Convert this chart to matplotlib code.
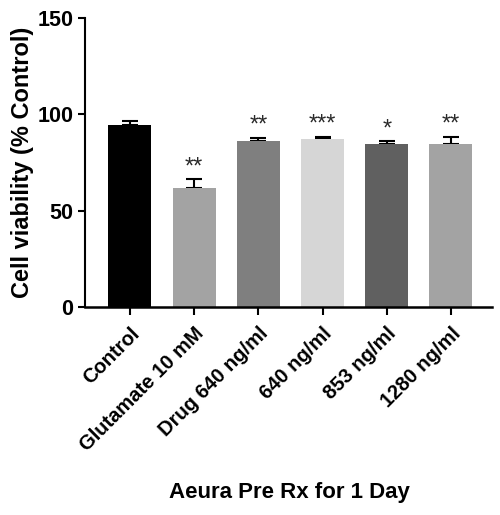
import matplotlib.pyplot as plt
import numpy as np

plt.rcParams['font.family'] = ['Liberation Sans', 'DejaVu Sans']
plt.rcParams['font.weight'] = 'bold'

groups = ['Control', 'Glutamate 10 mM', 'Drug 640 ng/ml', '640 ng/ml', '853 ng/ml', '1280 ng/ml']
viability = [94.5, 61.6, 86.3, 87.0, 84.5, 84.5]
sem = [2.0, 4.8, 1.5, 1.3, 1.6, 3.9]
stars = ['', '**', '**', '***', '*', '**']
bar_colors = ['#000000', '#a3a3a3', '#7f7f7f', '#d6d6d6', '#606060', '#a3a3a3']

fig = plt.figure(figsize=(5, 5.15), dpi=100)
ax = fig.add_axes([0.17, 0.404, 0.814, 0.561])

x = np.arange(len(groups))
ax.bar(x, viability, width=0.67, color=bar_colors, zorder=2)
ax.errorbar(x, viability, yerr=[np.zeros(len(sem)), sem], fmt='none',
            ecolor='black', elinewidth=1.5, capsize=6, capthick=1.5, zorder=1)

for xi, v, e, s in zip(x, viability, sem, stars):
    if s:
        ax.text(xi, v + e + 0.5, s, ha='center', va='bottom', fontsize=17,
                fontweight='normal', color='#2a2a2a')

ax.set_xlim(-0.7, 5.64)
ax.set_ylim(0, 150)
ax.set_yticks([0, 50, 100, 150])
ax.set_xticks(x)
ax.set_xticklabels(groups, rotation=45, ha='right', va='top', rotation_mode='anchor',
                   fontsize=14.5)
ax.tick_params(axis='y', labelsize=15.5, width=1.5, length=5)
ax.tick_params(axis='x', width=1.5, length=6, pad=6)
ax.spines['top'].set_visible(False)
ax.spines['right'].set_visible(False)
ax.spines['left'].set_linewidth(1.5)
ax.spines['bottom'].set_linewidth(1.8)

ax.set_ylabel('Cell viability (% Control)', fontsize=17, fontweight='bold', labelpad=2)
fig.text(0.578, 0.043, 'Aeura Pre Rx for 1 Day', ha='center', va='center',
         fontsize=16, fontweight='bold')

plt.savefig('out.png', dpi=100)
